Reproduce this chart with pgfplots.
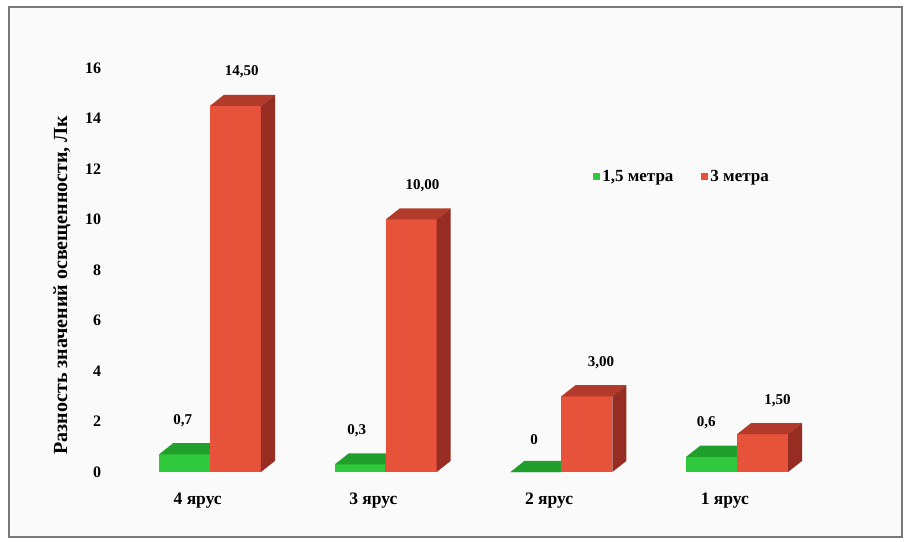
\documentclass[border=0pt]{standalone}
\usepackage{pgfplots}
\pgfplotsset{compat=1.18}
\usepackage{fontspec}
\setmainfont{Liberation Serif}

\definecolor{redfront}{RGB}{230,82,58}
\definecolor{redtop}{RGB}{178,58,42}
\definecolor{redside}{RGB}{150,44,34}
\definecolor{greenfront}{RGB}{48,200,60}
\definecolor{greentop}{RGB}{32,160,42}
\definecolor{greenside}{RGB}{24,130,34}
\definecolor{framegray}{RGB}{120,120,120}

\newcommand\ticfont{\bfseries\fontsize{16}{19}\selectfont}
\newcommand\valfont{\bfseries\fontsize{15}{18}\selectfont}
\newcommand\catfont{\bfseries\fontsize{17.5}{20}\selectfont}
\newcommand\legfont{\bfseries\fontsize{17}{20}\selectfont}
\newcommand\labfont{\bfseries\fontsize{20}{23}\selectfont}

% depth of the pseudo-3D boxes (axis units) and bar width
\newcommand\dX{0.080}
\newcommand\dY{0.44}
\newcommand\bw{0.29}

% #1 left edge, #2 value, #3 front, #4 top, #5 side colour, #6 value label,
% #7 horizontal shift of the label (axis units)
\newcommand\drawbox[7]{%
  \pgfmathsetmacro\xa{#1}%
  \pgfmathsetmacro\xb{#1+\bw}%
  \pgfmathsetmacro\xc{#1+\dX}%
  \pgfmathsetmacro\xd{#1+\bw+\dX}%
  \pgfmathsetmacro\yt{#2+\dY}%
  \pgfmathsetmacro\xm{#1+0.5*\bw+#7}%
  \edef\tmp{%
    \noexpand\addplot[forget plot, fill=#3, draw=none] coordinates {(\xa,0) (\xb,0) (\xb,#2) (\xa,#2)};
    \noexpand\addplot[forget plot, fill=#4, draw=none] coordinates {(\xa,#2) (\xb,#2) (\xd,\yt) (\xc,\yt)};
    \noexpand\addplot[forget plot, fill=#5, draw=none] coordinates {(\xb,0) (\xd,\dY) (\xd,\yt) (\xb,#2)};
    \noexpand\node[anchor=south, yshift=13pt, font=\noexpand\valfont] at (axis cs:\xm,\yt) {#6};
  }\tmp
}

\begin{document}
\begin{tikzpicture}[x=1pt,y=1pt]
\fill[white] (0,0) rectangle (907,541);
\fill[black!2] (9,4) rectangle (902,534);
\draw[framegray, line width=1.1pt] (9,4) rectangle (902,534);

\begin{axis}[
  at={(210pt,69pt)}, anchor=origin,
  x=175.7pt, y=25.25pt,
  xmin=-0.6, xmax=3.6, ymin=-0.7, ymax=17,
  clip=false,
  axis line style={draw=none},
  major tick length=0pt,
  ytick={0,2,...,16},
  yticklabel style={font=\ticfont},
  /pgf/number format/assume math mode=true,
  xtick={-0.07,0.93,1.93,2.93},
  xticklabels={4 ярус,3 ярус,2 ярус,1 ярус},
  xticklabel style={font=\catfont},
  ylabel={Разность значений освещенности, Лк},
  ylabel style={at={(axis description cs:-0.0577,0.458)}, anchor=center, font=\labfont},
  legend columns=2,
  legend style={at={(axis description cs:0.658,0.700)}, anchor=west,
    draw=none, fill=none, font=\legfont,
    /tikz/every even column/.append style={column sep=26pt}},
  legend image code/.code={\fill[#1] (0pt,-3.5pt) rectangle (7pt,3.5pt);},
]
\addlegendimage{fill=greenfront, draw=none}
\addlegendentry{1,5 метра}
\addlegendimage{fill=redfront, draw=none}
\addlegendentry{3 метра}

% 4 ярус
\drawbox{-0.29}{0.7}{greenfront}{greentop}{greenside}{0,7}{-0.01}
\drawbox{0}{14.5}{redfront}{redtop}{redside}{14,50}{0.035}
% 3 ярус
\drawbox{0.71}{0.3}{greenfront}{greentop}{greenside}{0,3}{-0.02}
\drawbox{1}{10}{redfront}{redtop}{redside}{10,00}{0.065}
% 2 ярус
\drawbox{1.71}{0}{greenfront}{greentop}{greenside}{0}{-0.01}
\drawbox{2}{3}{redfront}{redtop}{redside}{3,00}{0.08}
% 1 ярус
\drawbox{2.71}{0.6}{greenfront}{greentop}{greenside}{0,6}{-0.03}
\drawbox{3}{1.5}{redfront}{redtop}{redside}{1,50}{0.085}
\end{axis}
\end{tikzpicture}
\end{document}
